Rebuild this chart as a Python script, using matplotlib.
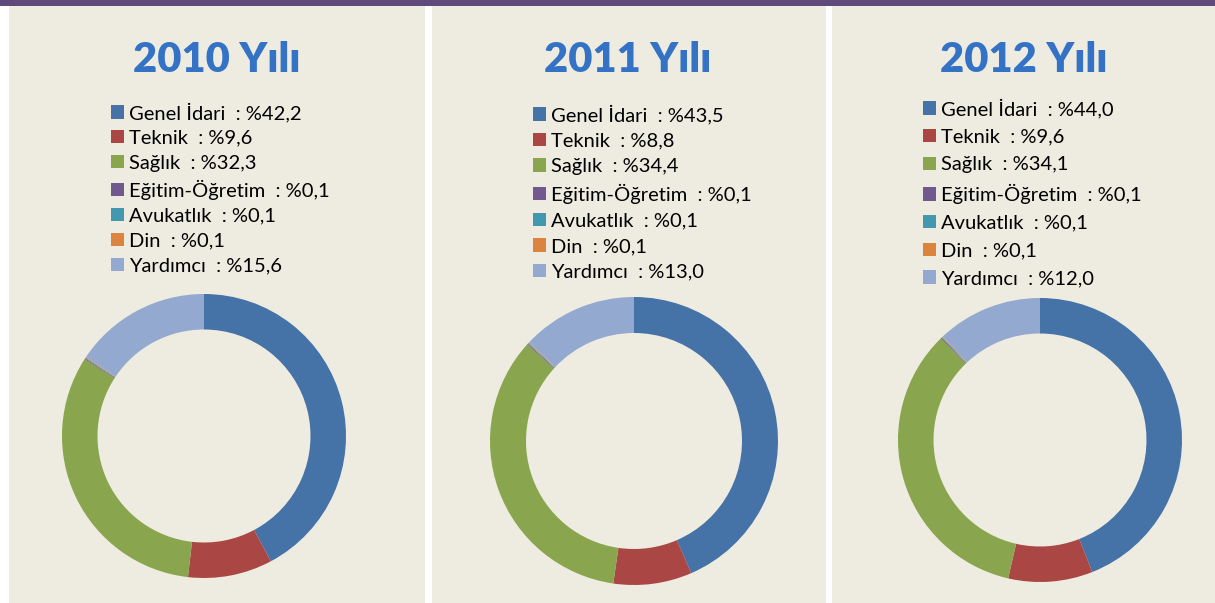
import matplotlib
matplotlib.use("Agg")
import matplotlib.pyplot as plt
from matplotlib.patches import Rectangle

plt.rcParams['font.family'] = ['Lato', 'DejaVu Sans']

W, H = 1215, 603
DPI = 100

# ---- data ----
years = ["2010 Yılı", "2011 Yılı", "2012 Yılı"]
categories = ["Genel İdari", "Teknik", "Sağlık", "Eğitim-Öğretim", "Avukatlık", "Din", "Yardımcı"]
values_2010 = [42.2, 9.6, 32.3, 0.1, 0.1, 0.1, 15.6]
values_2011 = [43.5, 8.8, 34.4, 0.1, 0.1, 0.1, 13.0]
values_2012 = [44.0, 9.6, 34.1, 0.1, 0.1, 0.1, 12.0]
label_2010 = ["42,2", "9,6", "32,3", "0,1", "0,1", "0,1", "15,6"]
label_2011 = ["43,5", "8,8", "34,4", "0,1", "0,1", "0,1", "13,0"]
label_2012 = ["44,0", "9,6", "34,1", "0,1", "0,1", "0,1", "12,0"]
colors = ["#4572A7", "#AA4643", "#89A54E", "#71588F", "#4198AF", "#DB843D", "#93A9CF"]

BG = "#EEECE1"
PURPLE = "#604A7B"
TITLE_C = "#3472C6"

fig = plt.figure(figsize=(W / DPI, H / DPI), dpi=DPI)
fig.patch.set_facecolor("white")

def fx(px):
    return px / W

def fy(py):
    return 1 - py / H

# top bar
fig.patches.append(Rectangle((0, fy(6)), 1, 6 / H, transform=fig.transFigure,
                             facecolor=PURPLE, edgecolor="none", zorder=-5))
# panels (x0, x1) in px
panels = [(9, 425), (432, 826), (832, 1215)]
for x0, x1 in panels:
    fig.patches.append(Rectangle((fx(x0), 0), fx(x1 - x0), fy(6), transform=fig.transFigure,
                                 facecolor=BG, edgecolor="none", zorder=-5))

# layout per panel (px)
donuts = [(204, 436, 142), (634, 441, 144), (1040, 440, 142)]
title_pos = [(217, 60), (628, 60), (1024, 60)]
# (square left x, first row centre y, row pitch)
legend_pos = [(111, 111, 25.5), (533, 113, 26.2), (923, 107, 28.3)]

all_vals = [values_2010, values_2011, values_2012]
all_labels = [label_2010, label_2011, label_2012]

fs = 14.5
fs_px = fs * DPI / 72
text_h = 0.875 * fs_px

for i in range(3):
    cx, cy, r = donuts[i]
    ax = fig.add_axes([fx(cx - r), fy(cy + r), fx(2 * r), 2 * r / H])
    wedges, _ = ax.pie(all_vals[i], colors=colors, startangle=90, counterclock=False,
                       wedgeprops=dict(width=0.25, edgecolor="none", linewidth=0))
    ax.set_xlim(-1, 1)
    ax.set_ylim(-1, 1)
    ax.set_aspect("equal")
    ax.axis("off")

    tx, ty = title_pos[i]
    fig.text(fx(tx), fy(ty), years[i], ha="center", va="center", fontsize=30,
             fontweight="heavy", color=TITLE_C)

    lx, lc, sp = legend_pos[i]
    labels = [f"{c}  : %{v}" for c, v in zip(categories, all_labels[i])]
    ax.legend(wedges, labels, loc="upper left",
              bbox_to_anchor=(fx(lx), fy(lc - text_h / 2)), bbox_transform=fig.transFigure,
              frameon=False, fontsize=fs, borderpad=0, borderaxespad=0,
              handlelength=13 / fs_px, handleheight=13 / fs_px, handletextpad=0.25,
              labelspacing=(sp - text_h) / fs_px, labelcolor="black")

fig.savefig("out.png", dpi=DPI, facecolor=fig.get_facecolor())
